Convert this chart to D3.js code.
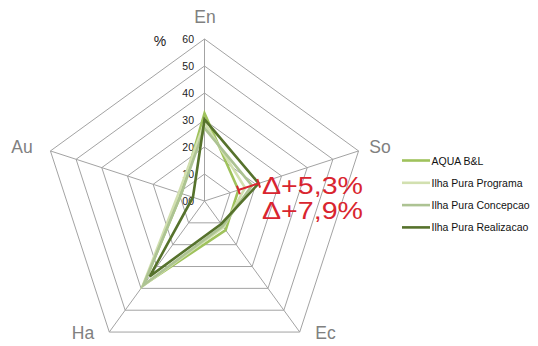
<!DOCTYPE html>
<html><head><meta charset="utf-8">
<script src="https://cdn.jsdelivr.net/npm/d3@7"></script>
<style>body{margin:0;background:#fff}svg{display:block}</style>
</head><body>
<svg id="c" width="538" height="346"></svg>
<script>
const axes = ["En", "So", "Ec", "Ha", "Au"];
const tickValues = [0, 10, 20, 30, 40, 50, 60];
const tickLabels = ["00", "10", "20", "30", "40", "50", "60"];
const seriesNames = ["AQUA B&L", "Ilha Pura Programa", "Ilha Pura Concepcao", "Ilha Pura Realizacao"];
const aqua = [32.5, 13.2, 13.3, 38.5, 9];
const programa = [29, 15.8, 12, 39, 10];
const concepcao = [27, 18.5, 11.5, 38.5, 9];
const realizacao = [30.2, 21.1, 10.5, 34.5, 4.5];
const seriesColors = ["#9fc25c", "#d2e0b0", "#adc393", "#56722c"];
const deltaLabels = ["Δ+5,3%", "Δ+7,9%"];
const deltaRange = [13.2, 21.1]; // on "So" axis

const series = [aqua, programa, concepcao, realizacao];
const svg = d3.select("#c");
const cx = 204.5, cy = 201, R = 162;
const r = d3.scaleLinear().domain([0, 60]).range([0, R]);
const ang = i => -Math.PI / 2 + i * 2 * Math.PI / axes.length;
const pt = (i, v) => [cx + r(v) * Math.cos(ang(i)), cy + r(v) * Math.sin(ang(i))];

const grid = svg.append("g");
// rings
tickValues.slice(1).forEach(t => {
  grid.append("path")
    .attr("d", d3.line()(axes.map((a, i) => pt(i, t))) + "Z")
    .attr("fill", "none").attr("stroke", "#a3a3a3").attr("stroke-width", 1);
});
// spokes
axes.forEach((a, i) => {
  grid.append("line")
    .attr("x1", cx).attr("y1", cy)
    .attr("x2", pt(i, 60)[0]).attr("y2", pt(i, 60)[1])
    .attr("stroke", "#a3a3a3").attr("stroke-width", 1);
});
// tick labels
tickValues.forEach((t, k) => {
  svg.append("text")
    .attr("x", cx - 10.5).attr("y", cy - r(t) + 1)
    .attr("text-anchor", "end").attr("dominant-baseline", "middle")
    .attr("font-family", "Liberation Sans, Arial, sans-serif")
    .attr("font-size", 10.5).attr("fill", "#222")
    .text(tickLabels[k]);
});
svg.append("text").attr("x", 160).attr("y", 42)
  .attr("text-anchor", "middle").attr("dominant-baseline", "middle")
  .attr("font-family", "Liberation Sans, Arial, sans-serif")
  .attr("font-size", 14).attr("fill", "#222").text("%");

// axis labels
const labelPos = [[205, 17], [380, 146.5], [325.5, 333], [83, 333], [22, 146.5]];
axes.forEach((a, i) => {
  svg.append("text")
    .attr("x", labelPos[i][0]).attr("y", labelPos[i][1])
    .attr("text-anchor", "middle").attr("dominant-baseline", "central")
    .attr("font-family", "Liberation Sans, Arial, sans-serif")
    .attr("font-size", 17.5).attr("fill", "#808080")
    .text(a);
});

// series
series.forEach((s, k) => {
  svg.append("path")
    .attr("d", d3.line()(s.map((v, i) => pt(i, v))) + "Z")
    .attr("fill", "none").attr("stroke", seriesColors[k])
    .attr("stroke-width", 2.6).attr("stroke-linejoin", "miter");
});

// delta marker on So axis
const red = "#d9252f";
const p0 = pt(1, deltaRange[0]), p1 = pt(1, deltaRange[1]);
const a1 = ang(1), nx = -Math.sin(a1), ny = Math.cos(a1);
svg.append("line").attr("x1", p0[0]).attr("y1", p0[1]).attr("x2", p1[0]).attr("y2", p1[1])
  .attr("stroke", red).attr("stroke-width", 2);
[p0, p1].forEach(p => {
  svg.append("line")
    .attr("x1", p[0] - nx * 4.5).attr("y1", p[1] - ny * 4.5)
    .attr("x2", p[0] + nx * 4.5).attr("y2", p[1] + ny * 4.5)
    .attr("stroke", red).attr("stroke-width", 2);
});
deltaLabels.forEach((t, k) => {
  svg.append("text")
    .attr("x", 262).attr("y", 193.5 + k * 25)
    .attr("font-family", "Liberation Sans, Arial, sans-serif")
    .attr("font-size", 24).attr("fill", red)
    .attr("textLength", 101).attr("lengthAdjust", "spacingAndGlyphs")
    .text(t);
});

// legend
const lg = svg.append("g");
seriesNames.forEach((n, k) => {
  const y = 160.5 + k * 22.3;
  lg.append("line").attr("x1", 402).attr("x2", 430).attr("y1", y).attr("y2", y)
    .attr("stroke", seriesColors[k]).attr("stroke-width", 2.6);
  lg.append("text").attr("x", 431.5).attr("y", y)
    .attr("dominant-baseline", "central")
    .attr("font-family", "Liberation Sans, Arial, sans-serif")
    .attr("font-size", 10.5).attr("fill", "#111")
    .text(n);
});
</script>
</body></html>
